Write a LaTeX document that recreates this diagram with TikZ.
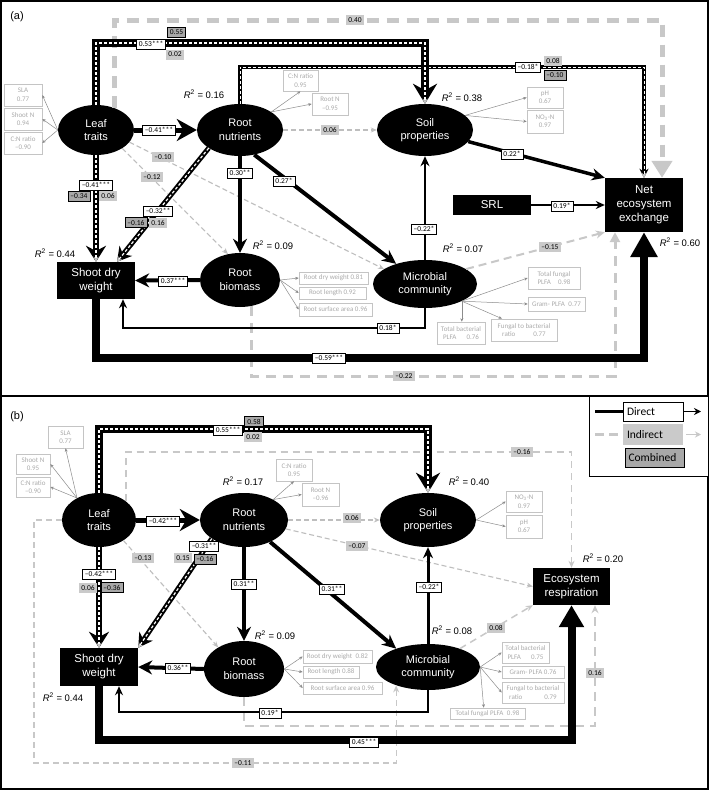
\documentclass[tikz,border=0pt]{standalone}
\usepackage{fontspec}
\setmainfont{Liberation Sans}
\newfontfamily\calfont{Carlito}
\usetikzlibrary{arrows.meta,shapes.geometric,calc}
\definecolor{indc}{HTML}{C8C8C8}
\definecolor{indthin}{HTML}{BEBEBE}
\definecolor{labf}{HTML}{CACACA}
\definecolor{combf}{HTML}{A8A8A8}
\definecolor{obsl}{HTML}{ABABAB}
\definecolor{obsb}{HTML}{C4C4C4}
\definecolor{obsa}{HTML}{8C8C8C}
\newcommand\Rsq[1]{\textit{R}\textsuperscript{2} = #1}
\newcommand\combarrow[4]{%
  \draw[black, line width=#1, -{#2}] #4;
  \draw[white, line width=#3, dash pattern=on 3pt off 2pt, -{Stealth[length=5pt,width=5pt,color=indc]}] #4;
}
\tikzset{
  lat/.style={ellipse, fill=black, text=white, inner sep=0pt, align=center, font=\fontsize{11}{13.5}\selectfont},
  obsn/.style={rectangle, fill=black, text=white, inner sep=0pt, align=center, font=\fontsize{11.5}{14}\selectfont},
  lab/.style={inner xsep=2.5pt, inner ysep=1pt, minimum height=10pt, font=\calfont\fontsize{7.5}{8}\selectfont},
  dl/.style={lab, draw=black, fill=white, line width=0.9pt},
  il/.style={lab, fill=labf},
  cl/.style={lab, draw=black, fill=combf, line width=0.9pt},
  ob/.style={draw=obsb, line width=0.6pt, text=obsl, align=center, inner sep=1pt, font=\calfont\fontsize{7}{8.5}\selectfont},
  oa/.style={draw=obsa, line width=0.5pt, -{Stealth[length=3.5pt,width=3pt]}},
  r2/.style={font=\fontsize{9.5}{11}\selectfont},
  thinind/.style={draw=indthin, line width=1.1pt, dash pattern=on 5pt off 3pt, -{Stealth[length=6pt,width=5pt]}},
  legtxt/.style={font=\calfont\fontsize{11.5}{13}\selectfont, inner sep=0pt, minimum width=60pt}
}
\begin{document}
\begin{tikzpicture}[x=1pt, y=-1pt]
\useasboundingbox (0,0) rectangle (709,790);
\fill[white] (0,0) rectangle (709,790);
\draw[line width=1.5] (1,1) rectangle (708,789);
\draw[line width=1.5] (1,396) -- (708,396);

% ---------- coordinates ----------
\coordinate (yA0) at (0,20);
\coordinate (yA1) at (0,43);
\coordinate (yA2) at (0,67);
\coordinate (yA3) at (0,328);
\coordinate (yA4) at (0,358);
\coordinate (yA5) at (0,376);
\coordinate (yB1) at (0,429);
\coordinate (yB2) at (0,452);
\coordinate (cB1) at (34,763);
\coordinate (yB3) at (0,726);
\coordinate (yB4) at (0,712);
\coordinate (yB5) at (0,740);

% ---------- panel (a) nodes ----------
\node[font=\fontsize{11}{13}\selectfont] (pa) at (17,17) {(a)};
\node[lat, minimum width=76, minimum height=50] (leafA) at (96,130) {Leaf\\traits};
\node[lat, minimum width=86, minimum height=52] (rnA) at (240,130) {Root\\nutrients};
\node[lat, minimum width=96, minimum height=52] (soilA) at (425,130) {Soil\\properties};
\node[obsn, minimum width=78, minimum height=54] (neeA) at (644,205) {Net\\ecosystem\\exchange};
\node[obsn, minimum width=78, minimum height=20] (srlA) at (492,205) {SRL};
\node[lat, minimum width=104, minimum height=48] (micA) at (425,284) {Microbial\\community};
\node[lat, minimum width=80, minimum height=54] (rbA) at (240,280) {Root\\biomass};
\node[obsn, minimum width=78, minimum height=37] (sdwA) at (96,280.5) {Shoot dry\\weight};
\coordinate (sA13) at ($(rbA.south)+(11,-1)$);

% ---------- panel (b) nodes ----------
\node[font=\fontsize{11}{13}\selectfont] (pb) at (17,417) {(b)};
\node[lat, minimum width=74, minimum height=54] (leafB) at (99,520) {Leaf\\traits};
\node[lat, minimum width=88, minimum height=54] (rnB) at (244,520) {Root\\nutrients};
\node[lat, minimum width=96, minimum height=54] (soilB) at (428,520) {Soil\\properties};
\node[obsn, minimum width=77, minimum height=37] (erB) at (571.5,586.5) {Ecosystem\\respiration};
\node[lat, minimum width=104, minimum height=46] (micB) at (428,667) {Microbial\\community};
\node[lat, minimum width=80, minimum height=56] (rbB) at (244,669) {Root\\biomass};
\node[obsn, minimum width=78, minimum height=38] (sdwB) at (99,667) {Shoot dry\\weight};

% ---------- indicator boxes (a) ----------
\node[ob, minimum width=38, minimum height=22] (oA1) at (23,95) {SLA\\0.77};
\node[ob, minimum width=38, minimum height=22] (oA2) at (23,119) {Shoot N\\0.94};
\node[ob, minimum width=38, minimum height=22] (oA3) at (23,143) {C:N ratio\\–0.90};
\node[ob, minimum width=35, minimum height=21] (oA4) at (300.5,80.5) {C:N ratio\\0.95};
\node[ob, minimum width=36, minimum height=22] (oA5) at (330,104) {Root N\\–0.95};
\node[ob, minimum width=36, minimum height=21] (oA6) at (545,97.5) {pH\\0.67};
\node[ob, minimum width=36, minimum height=23] (oA7) at (545,121.5) {NO\textsubscript{3}-N\\0.97};
\node[ob, minimum width=69, minimum height=12] (oA8) at (333.5,278) {Root dry weight 0.81};
\node[ob, minimum width=67, minimum height=12] (oA9) at (332.5,293) {Root length 0.92};
\node[ob, minimum width=73, minimum height=13] (oA10) at (335.5,309.5) {Root surface area 0.96};
\node[ob, minimum width=52, minimum height=22] (oA11) at (554,278) {Total fungal\\PLFA\quad 0.98};
\node[ob, minimum width=57, minimum height=14] (oA12) at (556.5,304) {Gram- PLFA\enspace 0.77};
\node[ob, minimum width=66, minimum height=22] (oA13) at (524,330) {Fungal to bacterial\\ratio\hspace{18pt}0.77};
\node[ob, minimum width=48, minimum height=22] (oA14) at (461,333) {Total bacterial\\PLFA\hspace{10pt}0.76};

% ---------- indicator boxes (b) ----------
\node[ob, minimum width=35, minimum height=22] (oB1) at (65.5,437) {SLA\\0.77};
\node[ob, minimum width=34, minimum height=20] (oB2) at (33,464) {Shoot N\\0.95};
\node[ob, minimum width=34, minimum height=20] (oB3) at (33,487) {C:N ratio\\–0.90};
\node[ob, minimum width=36, minimum height=22] (oB4) at (294,470) {C:N ratio\\0.95};
\node[ob, minimum width=37, minimum height=23] (oB5) at (320.5,494.5) {Root N\\–0.96};
\node[ob, minimum width=36, minimum height=21] (oB6) at (524,501.5) {NO\textsubscript{3}-N\\0.97};
\node[ob, minimum width=36, minimum height=23] (oB7) at (524,526.5) {pH\\0.67};
\node[ob, minimum width=69, minimum height=13] (oB8) at (337.5,656.5) {Root dry weight\enspace 0.82};
\node[ob, minimum width=56, minimum height=12] (oB9) at (331,672) {Root length 0.88};
\node[ob, minimum width=79, minimum height=12] (oB10) at (342.5,688) {Root surface area 0.96};
\node[ob, minimum width=47, minimum height=21] (oB11) at (525.5,652.5) {Total bacterial\\PLFA\hspace{10pt}0.75};
\node[ob, minimum width=62, minimum height=12] (oB12) at (533,672) {Gram- PLFA 0.76};
\node[ob, minimum width=62, minimum height=21] (oB13) at (533,692.5) {Fungal to bacterial\\ratio\hspace{22pt}0.79};
\node[ob, minimum width=75, minimum height=11] (oB14) at (487.5,713.5) {Total fungal PLFA\enspace 0.98};

% ---------- indicator arrows ----------
\draw[oa] (leafA.west) -- (oA1.east);
\draw[oa] (leafA.west) -- (oA2.east);
\draw[oa] (leafA.west) -- (oA3.east);
\draw[oa] (rnA.30) -- (oA4.south);
\draw[oa] (rnA.30) -- (oA5.west);
\draw[oa] (soilA.20) -- (oA6.west);
\draw[oa] (soilA.20) -- (oA7.west);
\draw[oa] (rbA.east) -- (oA8.west);
\draw[oa] (rbA.east) -- (oA9.west);
\draw[oa] (rbA.east) -- (oA10.west);
\draw[oa] (micA.-25) -- (oA11.west);
\draw[oa] (micA.-25) -- (oA12.west);
\draw[oa] (micA.-25) -- ($(oA13.north)+(-22,0)$);
\draw[oa] (micA.-25) -- (micA.-25 |- oA14.north);
\draw[oa] (leafB.135) -- (oB1.south);
\draw[oa] (leafB.135) -- (oB2.east);
\draw[oa] (leafB.135) -- (oB3.east);
\draw[oa] (rnB.35) -- (oB4.south);
\draw[oa] (rnB.35) -- (oB5.west);
\draw[oa] (soilB.east) -- (oB6.west);
\draw[oa] (soilB.east) -- (oB7.west);
\draw[oa] (rbB.east) -- (oB8.west);
\draw[oa] (rbB.east) -- (oB9.west);
\draw[oa] (rbB.east) -- (oB10.west);
\draw[oa] (micB.east) -- (oB11.west);
\draw[oa] (micB.east) -- (oB12.west);
\draw[oa] (micB.east) -- (oB13.west);
\draw[oa] (micB.east) -- ($(oB14.north west)+(34,0)$);

% ---------- panel (a) indirect ----------
\draw[indc, line width=5, dash pattern=on 12pt off 8pt, -{Triangle[length=17pt,width=20pt]}] (leafA.50) -- (leafA.50 |- yA0) -| ($(neeA.north)+(18,0)$);
\draw[thinind] (rnA.east) -- (soilA.west);
\draw[indc, line width=2, dash pattern=on 8pt off 5pt, -{Stealth[length=9pt,width=8pt]}] (micA.20) -- (neeA.south west);
\draw[indc, line width=3, dash pattern=on 10pt off 7pt, -{Triangle[length=10pt,width=10pt]}] (sA13) -- (sA13 |- yA5) -| ($(neeA.south)+(-29,0)$);
\draw[thinind] (leafA.-35) -- (rbA.115);
\draw[thinind] (leafA.-20) -- (micA.160);

% ---------- panel (a) direct ----------
\draw[line width=5, -{Stealth[length=20pt,width=22pt]}] (leafA.east) -- (rnA.west);
\draw[line width=3.5, -{Stealth[length=13pt,width=12pt]}] (soilA.-15) -- (neeA.north west);
\draw[line width=2, -{Stealth[length=9pt,width=8pt]}] (srlA.east) -- (neeA.west);
\draw[line width=2.5, -{Stealth[length=10pt,width=9pt]}] (micA.north) -- (soilA.south);
\draw[line width=2, -{Stealth[length=9pt,width=8pt]}] (micA.south) -- (micA.south |- yA3) -| ($(sdwA.south)+(27,0)$);
\draw[line width=8, -{Triangle[length=25pt,width=26pt]}] (sdwA.south) -- (sdwA.south |- yA4) -| (neeA.south);
\draw[line width=4, -{Stealth[length=14pt,width=14pt]}] (rnA.south) -- (rbA.north);
\draw[line width=4, -{Stealth[length=14pt,width=13pt]}] (rnA.-60) -- (micA.145);
\draw[line width=4, -{Stealth[length=14pt,width=14pt]}] (rbA.west) -- (sdwA.east);

% ---------- panel (a) combined ----------
\combarrow{3.5}{Stealth[length=9pt,width=9pt]}{1}{(rnA.north) -- (rnA.north |- yA2) -| (neeA.north)}
\combarrow{8}{Stealth[length=20pt,width=24pt]}{1.5}{(leafA.north) -- (leafA.north |- yA1) -| (soilA.north)}
\combarrow{6}{Stealth[length=16pt,width=20pt]}{1.3}{(leafA.south) -- (sdwA.north)}
\combarrow{5}{Stealth[length=14pt,width=16pt]}{1.2}{(rnA.-150) -- ($(sdwA.north)+(21,0)$)}

% ---------- panel (b) indirect ----------
\draw[thinind] (rnB.east) -- (soilB.west);
\draw[thinind] (rnB.-12) -- (erB.west);
\draw[indc, line width=1.5, dash pattern=on 7pt off 5pt, -{Stealth[length=7pt,width=6pt]}] (leafB.35) -- (leafB.35 |- yB2) -| (erB.north);
\draw[indc, line width=1.3, dash pattern=on 6pt off 4pt, -{Stealth[length=7pt,width=6pt]}] (leafB.west) -| (cB1) -| (micB.-150);
\draw[indc, line width=2, dash pattern=on 9pt off 6pt, -{Stealth[length=8pt,width=7pt]}] (rbB.south) -- (rbB.south |- yB3) -| ($(erB.south)+(23.5,0)$);
\draw[indc, line width=1.5, dash pattern=on 7pt off 5pt, -{Stealth[length=7pt,width=6pt]}] (micB.30) -- (erB.south west);
\draw[thinind] (leafB.-40) -- (rbB.140);

% ---------- panel (b) direct ----------
\draw[line width=5, -{Stealth[length=20pt,width=22pt]}] (leafB.east) -- (rnB.west);
\draw[line width=3, -{Stealth[length=11pt,width=10pt]}] (micB.north) -- (soilB.south);
\draw[line width=4, -{Stealth[length=14pt,width=14pt]}] (rnB.south) -- (rbB.north);
\draw[line width=4, -{Stealth[length=14pt,width=13pt]}] (rnB.-40) -- (micB.150);
\draw[line width=4, -{Stealth[length=14pt,width=14pt]}] (rbB.west) -- (sdwB.east);
\draw[line width=2, -{Stealth[length=9pt,width=8pt]}] (micB.south) -- (micB.south |- yB4) -| ($(sdwB.south)+(20,0)$);
\draw[line width=8, -{Triangle[length=22pt,width=24pt]}] (sdwB.south) -- (sdwB.south |- yB5) -| (erB.south);

% ---------- panel (b) combined ----------
\combarrow{8}{Stealth[length=20pt,width=24pt]}{1.5}{(leafB.north) -- (leafB.north |- yB1) -| (soilB.north)}
\combarrow{6}{Stealth[length=16pt,width=20pt]}{1.3}{(leafB.south) -- (sdwB.north)}
\combarrow{5}{Stealth[length=14pt,width=16pt]}{1.2}{(rnB.-150) -- (sdwB.north east)}

% ---------- labels (a) ----------
\node[dl] (lA1) at (159,130) {–0.41***};
\node[dl] (lA2) at (96,185) {–0.41***};
\node[cl] (lA3) at (79,196) {–0.34};
\node[il] (lA4) at (108,196) {0.06};
\node[dl] (lA5) at (151,44) {0.53***};
\node[cl] (lA6) at (176.5,32.5) {0.55};
\node[il] (lA7) at (175,54.5) {0.02};
\node[il] (lA8) at (355,20) {0.40};
\node[dl] (lA9) at (528,67) {–0.18*};
\node[il] (lA10) at (553,60.5) {0.08};
\node[cl] (lA11) at (555,75.5) {–0.10};
\node[il] (lA12) at (330,130) {0.06};
\node[dl] (lA13) at (512,154) {0.22*};
\node[dl] (lA14) at (562,206) {0.19*};
\node[dl] (lA15) at (424,229) {–0.22*};
\node[il] (lA16) at (550,247) {–0.15};
\node[dl] (lA17) at (388,328) {0.18*};
\node[dl] (lA18) at (329,358) {–0.59***};
\node[il] (lA19) at (404,376) {–0.22};
\node[dl] (lA20) at (240,173) {0.30**};
\node[dl] (lA21) at (284,181) {0.27*};
\node[dl] (lA22) at (158,211) {–0.32**};
\node[cl] (lA23) at (136,222.5) {–0.16};
\node[il] (lA24) at (158,222.5) {0.16};
\node[il] (lA25) at (152,177) {–0.12};
\node[il] (lA26) at (163,157) {–0.10};
\node[dl] (lA27) at (173,281) {0.37***};

% ---------- labels (b) ----------
\node[dl] (lB1) at (163,521) {–0.42***};
\node[dl] (lB2) at (228,430) {0.55***};
\node[cl] (lB3) at (254,421.5) {0.58};
\node[il] (lB4) at (253,437) {0.02};
\node[il] (lB5) at (352,518) {0.06};
\node[il] (lB6) at (357,546) {–0.07};
\node[il] (lB7) at (522,452) {–0.16};
\node[il] (lB8) at (243,763) {–0.11};
\node[il] (lB9) at (595,673) {0.16};
\node[il] (lB10) at (496,628) {0.08};
\node[dl] (lB11) at (429,587) {–0.22*};
\node[dl] (lB12) at (244,584) {0.31**};
\node[dl] (lB13) at (332,589) {0.31**};
\node[dl] (lB14) at (204,546) {–0.31**};
\node[cl] (lB15) at (205,559) {–0.16};
\node[il] (lB16) at (183,558) {0.15};
\node[dl] (lB17) at (99,574) {–0.42***};
\node[il] (lB18) at (88,587.5) {0.06};
\node[cl] (lB19) at (112,587.5) {–0.36};
\node[il] (lB20) at (143,558) {–0.13};
\node[dl] (lB21) at (178,668) {0.36**};
\node[dl] (lB22) at (270,713) {0.19*};
\node[dl] (lB23) at (364,742) {0.45***};

% ---------- R squared ----------
\node[r2] (rA1) at (204,94) {\Rsq{0.16}};
\node[r2] (rA2) at (462,97) {\Rsq{0.38}};
\node[r2] (rA3) at (55,253) {\Rsq{0.44}};
\node[r2] (rA4) at (273,245) {\Rsq{0.09}};
\node[r2] (rA5) at (463,248) {\Rsq{0.07}};
\node[r2] (rA6) at (680,242) {\Rsq{0.60}};
\node[r2] (rB1) at (243,481) {\Rsq{0.17}};
\node[r2] (rB2) at (469,481) {\Rsq{0.40}};
\node[r2] (rB3) at (603,558) {\Rsq{0.20}};
\node[r2] (rB4) at (275,635) {\Rsq{0.09}};
\node[r2] (rB5) at (452,630) {\Rsq{0.08}};
\node[r2] (rB6) at (63,697) {\Rsq{0.44}};

% ---------- legend ----------
\node[draw=black, line width=1.2, fill=white, minimum width=119, minimum height=80, inner sep=0, anchor=north west] (legbox) at (589,396) {};
\coordinate (legD0) at (595,411.5);
\coordinate (legD1) at (701,411.5);
\coordinate (legI0) at (595,434.5);
\coordinate (legI2) at (686,434.5);
\coordinate (legI1) at (701,434.5);
\node[legtxt, draw=black, fill=white, line width=0.8, minimum height=19] (legD) at (653,411.5) {\makebox[52pt][l]{Direct}};
\draw[line width=2.5] (legD0) -- (legD.west);
\draw[line width=1.5, -{Stealth[length=7pt,width=7pt]}] (legD.east) -- (legD1);
\node[legtxt, fill=labf, minimum height=21] (legI) at (653,434.5) {\makebox[52pt][l]{Indirect}};
\draw[indc, line width=2.5, dash pattern=on 9pt off 5pt] (legI0) -- (legI.west);
\draw[indc, line width=1.5, -{Stealth[length=6pt,width=6pt]}] (legI2) -- (legI1);
\node[legtxt, draw=black, fill=combf, line width=0.8, minimum height=19, minimum width=59] (legC) at (654.5,457.5) {\makebox[52pt][l]{Combined}};
\end{tikzpicture}
\end{document}
